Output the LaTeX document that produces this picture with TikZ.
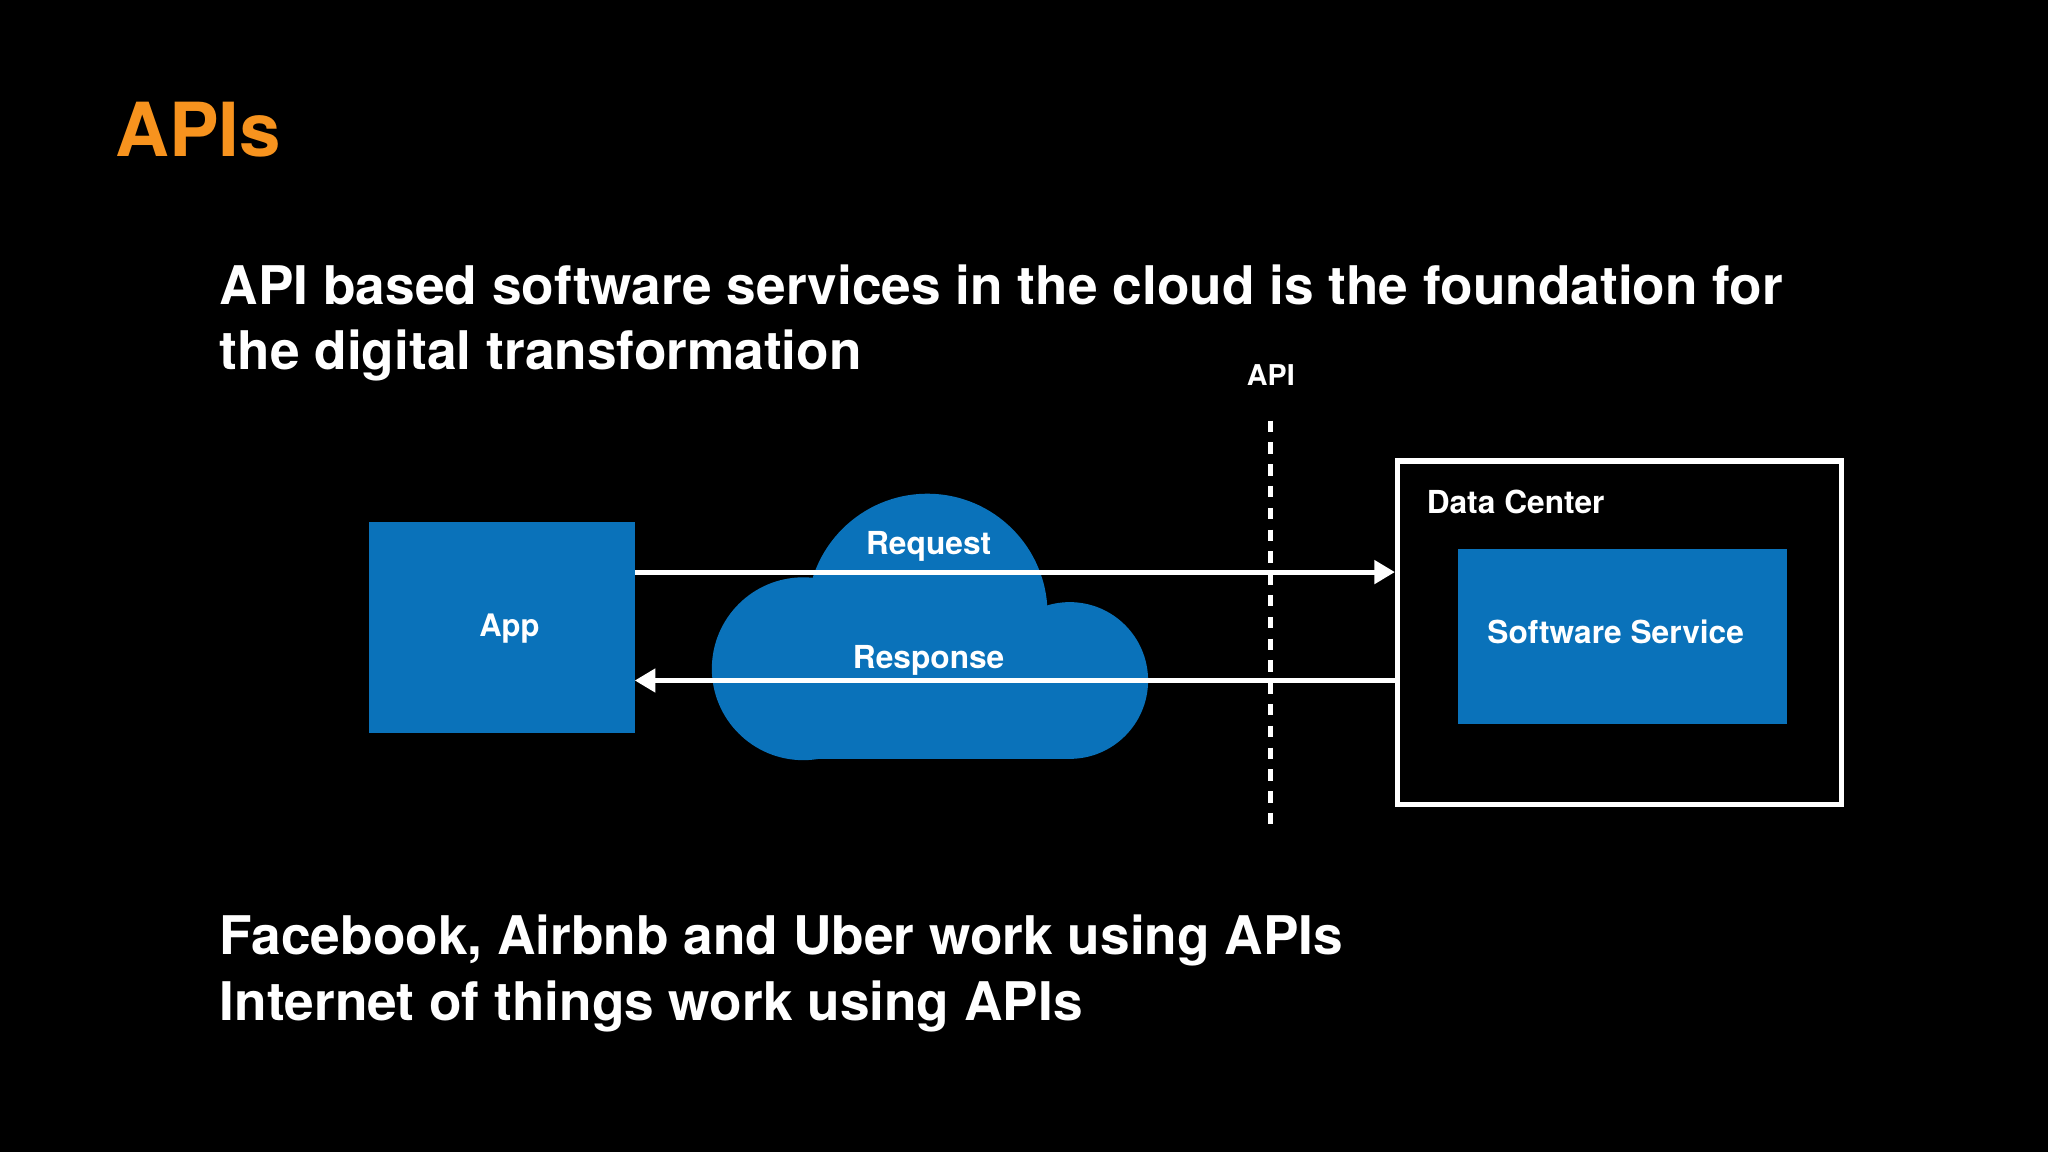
\documentclass[tikz,border=0pt]{standalone}
\usepackage{fontspec}
\setmainfont{TeX Gyre Heros}
\usetikzlibrary{arrows.meta}
\definecolor{apiblue}{HTML}{0A72BA}
\definecolor{apiorange}{HTML}{F7931E}
\begin{document}
\begin{tikzpicture}[x=0.02cm,y=-0.02cm,
    txt/.style={text=white, font=\bfseries, inner sep=0pt},
    box/.style={fill=apiblue, draw=none},
    wire/.style={draw=white, line width=2.2pt, -{Triangle[length=9pt,width=10pt]}}]
  \fill[black] (0,0) rectangle (1568,882);
  \useasboundingbox (0,0) rectangle (1568,882);

  % title and heading
  \node[txt, text=apiorange, anchor=base west, font=\fontsize{32.5}{40}\selectfont\bfseries] (title) at (88,120) {APIs};
  \node[txt, anchor=base west, font=\fontsize{23.2}{28.4}\selectfont\bfseries, align=left] (head) at (168,283)
    {API based software services in the cloud is the foundation for\\the digital transformation};

  % cloud
  \begin{scope}
    \fill[apiblue] (710,470) circle (92);
    \fill[apiblue] (615,512) circle (70);
    \fill[apiblue] (819,521) circle (60);
    \fill[apiblue] (615,500) rectangle (819,581);
  \end{scope}

  % app
  \node[box, minimum width=204*0.02cm, minimum height=162*0.02cm, anchor=north west] (app) at (282,399) {};
  \node[txt, font=\fontsize{13.5}{16}\selectfont\bfseries] (applbl) at (390,481) {App};

  % data center
  \node[draw=white, line width=2.2pt, minimum width=340*0.02cm, minimum height=263*0.02cm, anchor=north west] (dc) at (1068,351) {};
  \node[txt, anchor=base west, font=\fontsize{13.8}{16}\selectfont\bfseries] (dclbl) at (1092,393) {Data Center};
  \node[box, minimum width=252*0.02cm, minimum height=134*0.02cm, anchor=north west] (sw) at (1116,420) {};
  \node[txt, font=\fontsize{13.8}{16}\selectfont\bfseries] (swlbl) at (1237,484) {Software Service};

  % API boundary
  \node[txt, font=\fontsize{12.5}{15}\selectfont\bfseries] (api) at (973,287) {API};
  \coordinate (apitop) at (973,322);
  \coordinate (apibot) at (973,637);
  \draw[white, line width=2.2pt, dash pattern=on 5pt off 4.5pt] (apitop) -- (apibot);

  % request / response
  \coordinate (reqs) at (486,438);
  \coordinate (rese) at (486,521);
  \draw[wire] (reqs) -- (reqs -| dc.west);
  \draw[wire] (rese -| dc.west) -- (rese);
  \node[txt, font=\fontsize{13.8}{16}\selectfont\bfseries] (req) at (711,418) {Request};
  \node[txt, font=\fontsize{13.8}{16}\selectfont\bfseries] (res) at (711,506) {Response};

  % bottom text
  \node[txt, anchor=base west, font=\fontsize{23.2}{28.4}\selectfont\bfseries, align=left] (foot) at (168,781)
    {Facebook, Airbnb and Uber work using APIs\\Internet of things work using APIs};
\end{tikzpicture}
\end{document}
